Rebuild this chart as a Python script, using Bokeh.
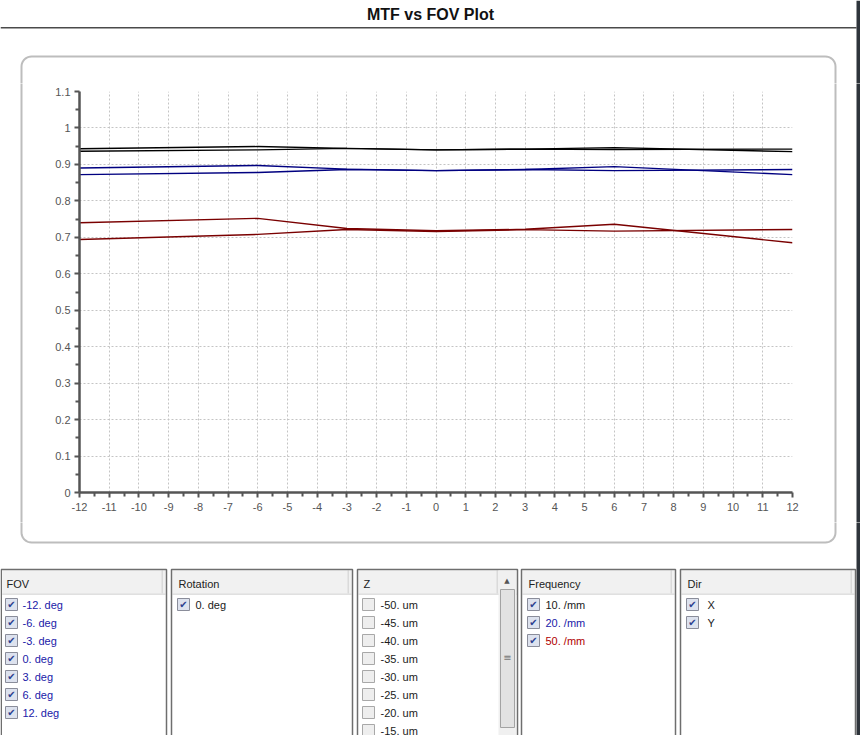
import numpy as np
from bokeh.plotting import figure
from bokeh.models import FixedTicker, Range1d
from bokeh.layouts import column, row
from bokeh.core.properties import value
from bokeh.embed import file_html
from bokeh.resources import INLINE

# ---------------- data ----------------
fov = [-12, -6, -3, 0, 3, 6, 12]
mtf_10_x = [0.943, 0.949, 0.944, 0.940, 0.942, 0.946, 0.935]
mtf_10_y = [0.936, 0.940, 0.944, 0.940, 0.942, 0.941, 0.942]
mtf_20_x = [0.890, 0.897, 0.887, 0.883, 0.886, 0.894, 0.872]
mtf_20_y = [0.872, 0.878, 0.886, 0.883, 0.886, 0.883, 0.886]
mtf_50_x = [0.740, 0.752, 0.724, 0.718, 0.722, 0.736, 0.685]
mtf_50_y = [0.694, 0.708, 0.7215, 0.716, 0.721, 0.717, 0.7215]

x_ticks = list(range(-12, 13))
x_tick_labels = ["-12", "-11", "-10", "-9", "-8", "-7", "-6", "-5", "-4", "-3", "-2", "-1",
                 "0", "1", "2", "3", "4", "5", "6", "7", "8", "9", "10", "11", "12"]
x_minor = [t + 0.5 for t in range(-12, 12)]
y_ticks = [0, 0.1, 0.2, 0.3, 0.4, 0.5, 0.6, 0.7, 0.8, 0.9, 1.0, 1.1]
y_tick_labels = ["0", "0.1", "0.2", "0.3", "0.4", "0.5", "0.6", "0.7", "0.8", "0.9", "1", "1.1"]
y_minor = [0.05, 0.15, 0.25, 0.35, 0.45, 0.55, 0.65, 0.75, 0.85, 0.95, 1.05]

title_text = "MTF vs FOV Plot"
fov_labels = ["-12. deg", "-6. deg", "-3. deg", "0. deg", "3. deg", "6. deg", "12. deg"]
rotation_labels = ["0. deg"]
z_labels = ["-50. um", "-45. um", "-40. um", "-35. um", "-30. um", "-25. um", "-20. um", "-15. um"]
freq_labels = ["10. /mm", "20. /mm", "50. /mm"]
dir_labels = ["X", "Y"]

BLACK = "#000000"
BLUE = "#000080"
RED = "#7a0000"
TXT_BLUE = "#2020a8"
TXT_RED = "#b00000"
TXT = "#1a1a1a"

PW, PH = 860, 735            # page size
FL, FR, FT, FB = 79, 792, 91, 492   # chart frame edges (page px)
LW_STRIP, RW_STRIP = 48, 48
TOP_H = 83
MID_BOT = 522

# ---------------- decoration description (page px) ----------------
quads = []   # (left, right, top, bottom, fill, line, lw)
paths = []   # (xs, ys, color, lw)
texts = []   # (x, y, text, size, color, align, font, style)

def quad(l, r, t, b, fill=None, line=None, lw=1):
    quads.append((l, r, t, b, fill, line, lw))

def txt(x, y, s, size="11px", color=TXT, align="left", font="Liberation Sans", style="normal"):
    texts.append((x, y, s, size, color, align, font, style))

def rounded_path(l, r, t, b, rad):
    xs, ys = [], []
    corners = [(r - rad, t + rad, -90, 0), (r - rad, b - rad, 0, 90),
               (l + rad, b - rad, 90, 180), (l + rad, t + rad, 180, 270)]
    for cx, cy, a0, a1 in corners:
        a = np.radians(np.linspace(a0, a1, 10))
        xs.extend(cx + rad * np.cos(a))
        ys.extend(cy + rad * np.sin(a))
    xs.append(xs[0]); ys.append(ys[0])
    return list(xs), list(ys)

# title bar
txt(430, 14, title_text, size="16px", color="#111111", align="center", style="bold")
quad(0, 856, 26.5, 28, fill="#4a4a4a")
# window edge on the right
quad(856, 860, 0, 735, fill="#2e343b")

# rounded chart panel
rx, ry = rounded_path(21, 835, 56, 542, 10)
paths.append((rx, ry, "#bdbdbd", 2))

# list panels
panels = [
    ("FOV", 0.75, 166, fov_labels, [TXT_BLUE] * 7, True, 11, 22),
    ("Rotation", 171, 352, rotation_labels, [TXT], True, 183, 195),
    ("Z", 357, 517, z_labels, [TXT] * 8, False, 368, 380),
    ("Frequency", 521, 675, freq_labels, [TXT, TXT_BLUE, TXT_RED], True, 533, 545),
    ("Dir", 680, 855, dir_labels, [TXT, TXT], True, 692, 707),
]
P_TOP, P_BOT, HDR_BOT = 569, 760, 593
for name, x0, x1, labels, colors, checked, cbx, tx in panels:
    quad(x0 + 1, x1 - 1, P_TOP + 1, HDR_BOT, fill="#f1f1f1")
    quad(x0 + 1, x1 - 1, HDR_BOT, HDR_BOT + 1.2, fill="#d6d6d6")
    sep = x1 - 5 if name != "Z" else x1 - 21
    quad(sep, sep + 1.5, P_TOP + 1, HDR_BOT, fill="#dadada")
    quad(x0, x1, P_TOP, P_BOT, line="#6e6e6e", lw=1.5)
    txt(cbx - 5, 583, name, color="#222222")
    for i, (lab, col) in enumerate(zip(labels, colors)):
        yc = 604 + 18 * i
        if checked:
            quad(cbx - 6, cbx + 6, yc - 6, yc + 6, fill="#dde2ee", line="#8a8d9a", lw=1)
            txt(cbx, yc, "\u2714", size="10px", color="#2c3f8e", align="center", font="DejaVu Sans")
        else:
            quad(cbx - 6, cbx + 6, yc - 6, yc + 6, fill="#eeeeee", line="#a8a8a8", lw=1)
        txt(tx, yc, lab, color=col)

# Z panel scrollbar
quad(498, 515.5, 570, 760, fill="#f0f0f0")
txt(506.5, 580, "\u25B2", size="7px", color="#555555", align="center", font="DejaVu Sans")
quad(500, 514, 589, 727, fill="#e2e2e2", line="#a3a3a3", lw=1)
txt(507, 657, "\u2261", size="10px", color="#777777", align="center", font="DejaVu Sans")


def deco_fig(X0, X1, Y0, Y1):
    f = figure(width=X1 - X0, height=Y1 - Y0, x_range=Range1d(X0, X1), y_range=Range1d(Y1, Y0),
               output_backend="svg", toolbar_location=None, min_border=0,
               x_axis_location=None, y_axis_location=None, frame_align=False,
               background_fill_color="white", border_fill_color="white")
    f.grid.visible = False
    f.outline_line_color = None
    for l, r, t, b, fill, line, lw in quads:
        if r < X0 or l > X1 or b < Y0 or t > Y1:
            continue
        f.quad(left=[l], right=[r], top=[t], bottom=[b],
               fill_color=fill if fill else "white", fill_alpha=1 if fill else 0,
               line_color=line if line else None, line_width=lw)
    for xs, ys, col, lw in paths:
        f.line(xs, ys, line_color=col, line_width=lw)
    for x, y, s, size, col, align, font, style in texts:
        if X0 <= x <= X1 and Y0 <= y <= Y1:
            f.text(x=[x], y=[y], text=[s], text_font=value(font), text_font_size=value(size),
                   text_color=col, text_align=align, text_baseline="middle",
                   text_font_style=style)
    return f

top_fig = deco_fig(0, PW, 0, TOP_H)
left_fig = deco_fig(0, LW_STRIP, TOP_H, MID_BOT)
right_fig = deco_fig(PW - RW_STRIP, PW, TOP_H, MID_BOT)
bottom_fig = deco_fig(0, PW, MID_BOT, PH)

# ---------------- chart ----------------
CW = PW - LW_STRIP - RW_STRIP
CH = MID_BOT - TOP_H
p = figure(width=CW, height=CH, output_backend="svg", toolbar_location=None,
           x_range=Range1d(-12, 12), y_range=Range1d(0, 1.1), frame_align=False,
           min_border_left=FL - LW_STRIP, min_border_right=(PW - RW_STRIP) - FR,
           min_border_top=FT - TOP_H, min_border_bottom=MID_BOT - FB,
           background_fill_color="white", border_fill_color="white")
p.outline_line_color = None

for ax in (p.xaxis, p.yaxis):
    ax.axis_line_color = "#555555"
    ax.axis_line_width = 2.5
    ax.major_tick_line_color = "#555555"
    ax.major_tick_line_width = 2
    ax.minor_tick_line_color = "#555555"
    ax.minor_tick_line_width = 2
    ax.major_tick_in = 0
    ax.major_tick_out = 5
    ax.minor_tick_in = 0
    ax.minor_tick_out = 4
    ax.major_label_text_font = "Liberation Sans"
    ax.major_label_text_font_size = "11px"
    ax.major_label_text_color = "#555555"

p.xaxis.ticker = FixedTicker(ticks=x_ticks, minor_ticks=x_minor)
p.yaxis.ticker = FixedTicker(ticks=y_ticks, minor_ticks=y_minor)
p.xaxis.major_label_overrides = {t: s for t, s in zip(x_ticks, x_tick_labels)}
p.yaxis.major_label_overrides = {t: s for t, s in zip(y_ticks, y_tick_labels)}
p.xaxis.major_label_standoff = 5
p.yaxis.major_label_standoff = 4

for g in (p.xgrid, p.ygrid):
    g.grid_line_color = "#c4c4c4"
    g.grid_line_dash = "2 2"
    g.grid_line_width = 1

series = [(mtf_10_x, BLACK), (mtf_10_y, BLACK),
          (mtf_20_x, BLUE), (mtf_20_y, BLUE),
          (mtf_50_x, RED), (mtf_50_y, RED)]
for vals, col in series:
    p.line(fov, vals, line_color=col, line_width=1.4)

layout = column(top_fig, row(left_fig, p, right_fig), bottom_fig)

html = file_html(layout, INLINE)
with open("out.html", "w") as f:
    f.write(html)
